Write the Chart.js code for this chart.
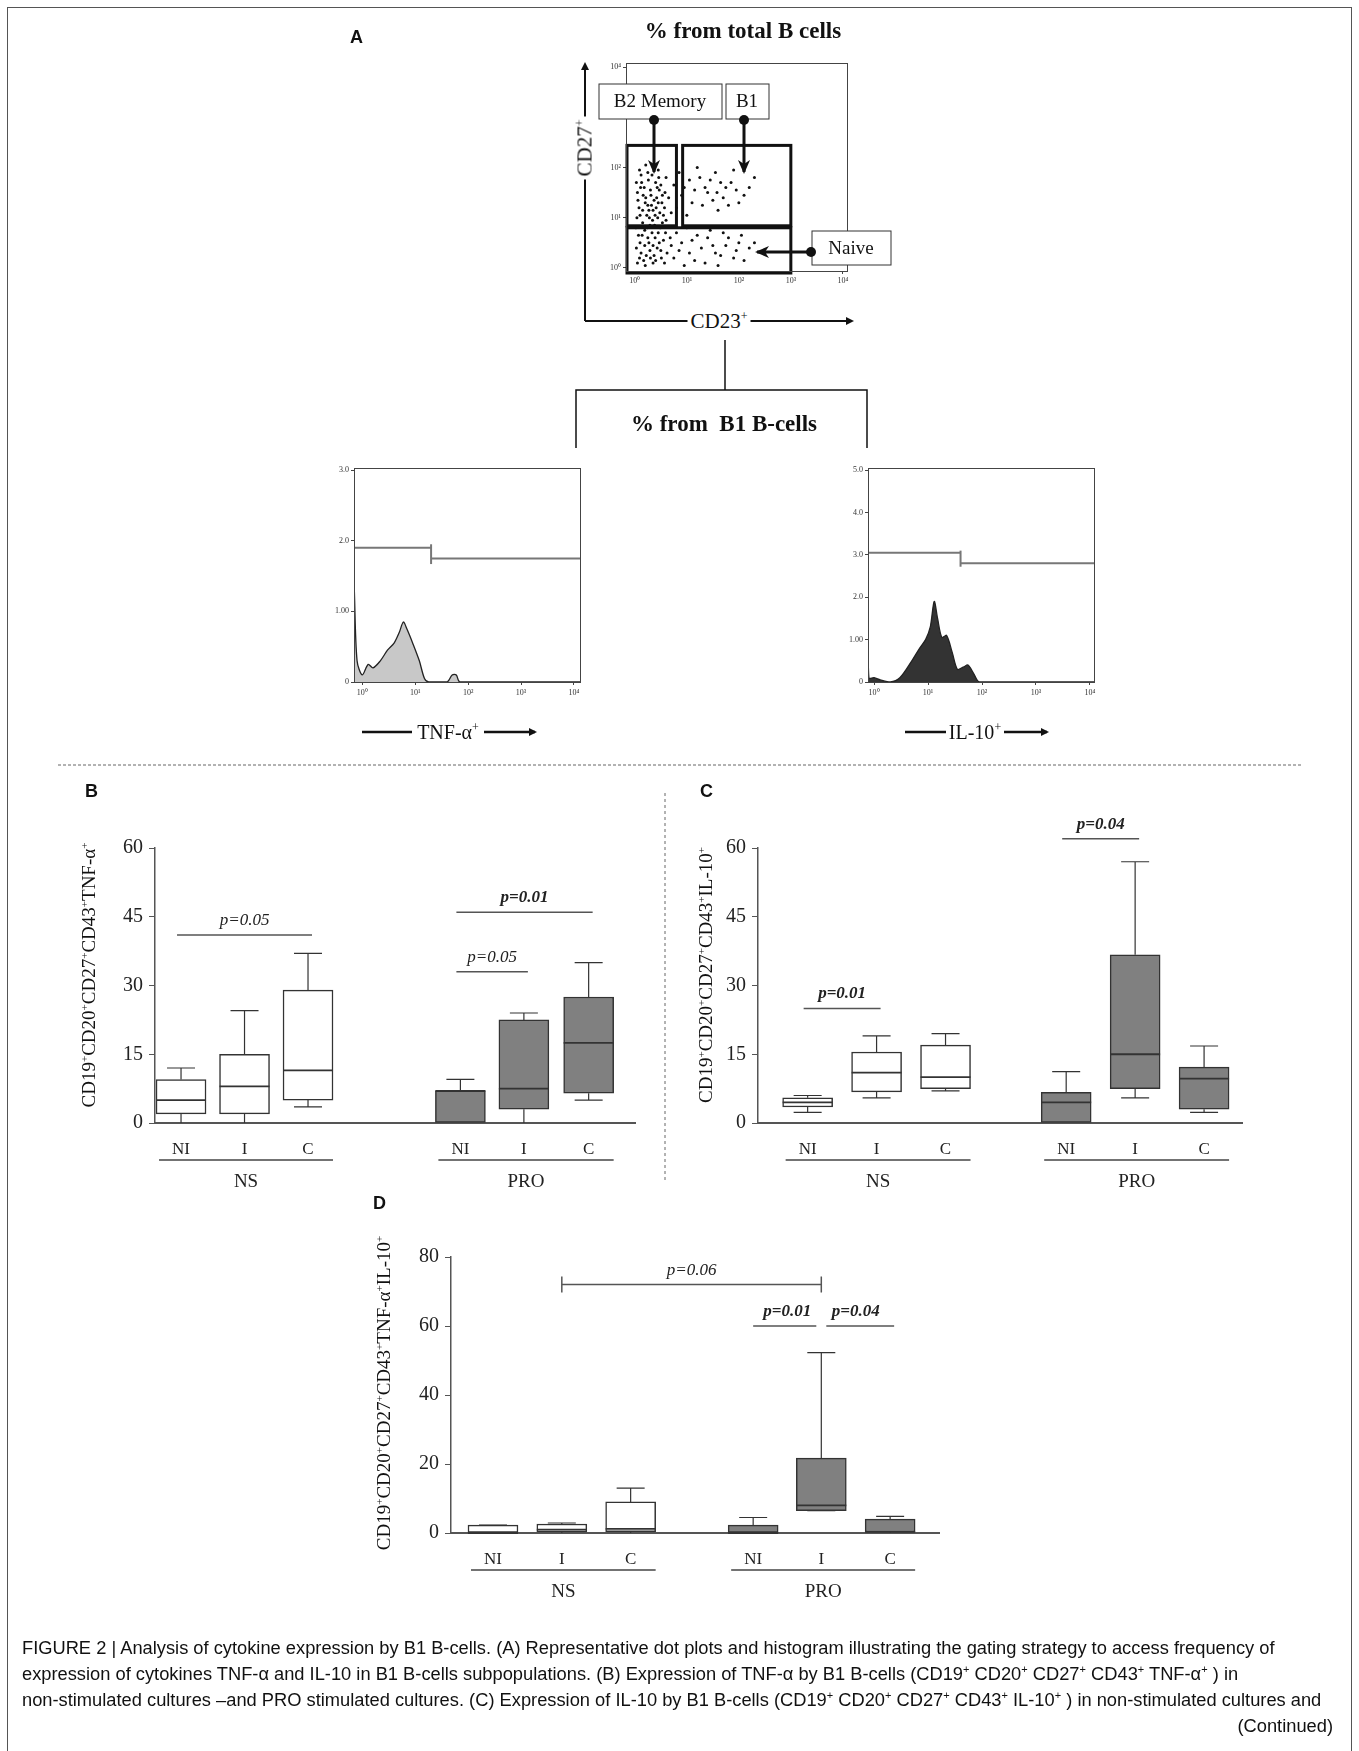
<!DOCTYPE html>
<html>
<head>
<meta charset="utf-8">
<script src="https://cdn.jsdelivr.net/npm/chart.js@4.4.1/dist/chart.umd.min.js"></script>
<style>
  body { margin: 0; background: #fff; }
  #page { position: relative; width: 1359px; height: 1751px; overflow: hidden; font-family: "Liberation Serif", serif; color: #111; }
  canvas, svg, .txt { position: absolute; }
  .txt { white-space: nowrap; }
  .ylab { font-size: 19px; transform: translate(-50%, -50%) rotate(-90deg); }
  .ylab sup { font-size: 11px; }
  .letter { font-family: "Liberation Sans", Arial, sans-serif; font-weight: bold; font-size: 18px; }
  .caption { font-family: "Liberation Sans", Arial, sans-serif; font-size: 18.3px; left: 22px; }
  .caption sup { font-size: 11px; }
</style>
</head>
<body>
<div id="page">
  <canvas id="dot" width="270" height="245" style="left:596px;top:50px"></canvas>
  <canvas id="histTnf" width="280" height="260" style="left:320px;top:455px"></canvas>
  <canvas id="histIl" width="280" height="260" style="left:834px;top:455px"></canvas>
  <canvas id="boxB" width="600" height="420" style="left:60px;top:800px"></canvas>
  <canvas id="boxC" width="620" height="430" style="left:640px;top:790px"></canvas>
  <canvas id="boxD" width="600" height="420" style="left:360px;top:1210px"></canvas>

  <svg width="1359" height="1751" style="left:0;top:0;pointer-events:none">
    <defs>
      <marker id="ah" markerWidth="8" markerHeight="8" refX="6" refY="4" orient="auto" markerUnits="userSpaceOnUse">
        <path d="M0,0 L8,4 L0,8 Z" fill="#111"/>
      </marker>
      <marker id="ahBig" markerWidth="14" markerHeight="12" refX="12" refY="6" orient="auto" markerUnits="userSpaceOnUse">
        <path d="M0,0 L14,6 L0,12 L4,6 Z" fill="#111"/>
      </marker>
    </defs>
    <rect x="7.5" y="7.5" width="1344" height="1760" fill="none" stroke="#555" stroke-width="1"/>
    <line x1="585" y1="321" x2="585" y2="64" stroke="#111" stroke-width="2" marker-end="url(#ah)"/>
    <line x1="585" y1="321" x2="852" y2="321" stroke="#111" stroke-width="2" marker-end="url(#ah)"/>
    <rect x="599" y="84" width="123" height="35" fill="#fff" stroke="#333"/>
    <rect x="726" y="84" width="43" height="35" fill="#fff" stroke="#333"/>
    <rect x="812" y="231" width="79" height="34" fill="#fff" stroke="#333"/>
    <circle cx="654" cy="120" r="5" fill="#111"/>
    <line x1="654" y1="120" x2="654" y2="172" stroke="#111" stroke-width="3" marker-end="url(#ahBig)"/>
    <circle cx="744" cy="120" r="5" fill="#111"/>
    <line x1="744" y1="120" x2="744" y2="172" stroke="#111" stroke-width="3" marker-end="url(#ahBig)"/>
    <circle cx="811" cy="252" r="5" fill="#111"/>
    <line x1="811" y1="252" x2="757" y2="252" stroke="#111" stroke-width="3" marker-end="url(#ahBig)"/>
    <line x1="725" y1="340" x2="725" y2="390" stroke="#111" stroke-width="1.5"/>
    <path d="M576,448 V390 H867 V448" fill="none" stroke="#111" stroke-width="1.5"/>
    <line x1="362" y1="732" x2="412" y2="732" stroke="#111" stroke-width="2.5"/>
    <line x1="484" y1="732" x2="535" y2="732" stroke="#111" stroke-width="2.5" marker-end="url(#ah)"/>
    <line x1="905" y1="732" x2="946" y2="732" stroke="#111" stroke-width="2.5"/>
    <line x1="1004" y1="732" x2="1047" y2="732" stroke="#111" stroke-width="2.5" marker-end="url(#ah)"/>
    <line x1="58" y1="765" x2="1301" y2="765" stroke="#666" stroke-width="1" stroke-dasharray="3,2"/>
    <line x1="665" y1="793" x2="665" y2="1181" stroke="#666" stroke-width="1" stroke-dasharray="3,3"/>
  </svg>

  <div class="txt letter" style="left:350px;top:27px">A</div>
  <div class="txt" style="left:743px;top:31px;transform:translate(-50%,-50%);font-weight:bold;font-size:23px">% from total B cells</div>
  <div class="txt" style="left:660px;top:101px;transform:translate(-50%,-50%);font-size:19px">B2 Memory</div>
  <div class="txt" style="left:747px;top:101px;transform:translate(-50%,-50%);font-size:19px">B1</div>
  <div class="txt" style="left:851px;top:248px;transform:translate(-50%,-50%);font-size:19px">Naive</div>
  <div class="txt" style="left:585px;top:148px;transform:translate(-50%,-50%) rotate(-90deg);font-size:21px;background:#fff;padding:0 3px">CD27<sup style="font-size:12px">+</sup></div>
  <div class="txt" style="left:719px;top:321px;transform:translate(-50%,-50%);font-size:21px;background:#fff;padding:0 3px">CD23<sup style="font-size:12px">+</sup></div>
  <div class="txt" style="left:724px;top:424px;transform:translate(-50%,-50%);font-weight:bold;font-size:23px">% from&nbsp; B1 B-cells</div>
  <div class="txt" style="left:448px;top:732px;transform:translate(-50%,-50%);font-size:20px">TNF-α<sup style="font-size:12px">+</sup></div>
  <div class="txt" style="left:975px;top:732px;transform:translate(-50%,-50%);font-size:20px">IL-10<sup style="font-size:12px">+</sup></div>

  <div class="txt letter" style="left:85px;top:781px">B</div>
  <div class="txt letter" style="left:700px;top:781px">C</div>
  <div class="txt letter" style="left:373px;top:1193px">D</div>
  <div class="txt ylab" style="left:89px;top:975px">CD19<sup>+</sup>CD20<sup>+</sup>CD27<sup>+</sup>CD43<sup>+</sup>TNF-α<sup>+</sup></div>
  <div class="txt ylab" style="left:706px;top:975px">CD19<sup>+</sup>CD20<sup>+</sup>CD27<sup>+</sup>CD43<sup>+</sup>IL-10<sup>+</sup></div>
  <div class="txt ylab" style="left:384px;top:1393px">CD19<sup>+</sup>CD20<sup>+</sup>CD27<sup>+</sup>CD43<sup>+</sup>TNF-α<sup>+</sup>IL-10<sup>+</sup></div>

  <div class="txt caption" style="top:1637px">FIGURE 2 | Analysis of cytokine expression by B1 B-cells. (A) Representative dot plots and histogram illustrating the gating strategy to access frequency of</div>
  <div class="txt caption" style="top:1663px">expression of cytokines TNF-α and IL-10 in B1 B-cells subpopulations. (B) Expression of TNF-α by B1 B-cells (CD19<sup>+</sup> CD20<sup>+</sup> CD27<sup>+</sup> CD43<sup>+</sup> TNF-α<sup>+</sup> ) in</div>
  <div class="txt caption" style="top:1689px">non-stimulated cultures –and PRO stimulated cultures. (C) Expression of IL-10 by B1 B-cells (CD19<sup>+</sup> CD20<sup>+</sup> CD27<sup>+</sup> CD43<sup>+</sup> IL-10<sup>+</sup> ) in non-stimulated cultures and</div>
  <div class="txt caption" style="top:1715px;left:auto;right:26px">(Continued)</div>
</div>

<script>
// ---- panel A: dot plot (log10 units) ----
const dotPoints = [
  0.05,0.1, 0.12,0.3, 0.2,0.05, 0.3,0.2, 0.4,0.15, 0.5,0.35, 0.1,0.5, 0.25,0.6, 0.35,0.45, 0.45,0.7,
  0.55,0.55, 0.02,0.8, 0.15,0.9, 0.28,1.0, 0.38,0.85, 0.48,1.1, 0.6,0.95, 0.08,1.2, 0.2,1.3, 0.32,1.25,
  0.42,1.4, 0.52,1.3, 0.05,1.5, 0.18,1.6, 0.3,1.55, 0.4,1.7, 0.5,1.65, 0.12,1.85, 0.25,1.9, 0.36,2.0,
  0.46,1.8, 0.58,1.5, 0.03,0.4, 0.22,0.25, 0.33,0.7, 0.43,0.4, 0.53,0.9, 0.62,0.3, 0.1,1.05, 0.27,1.15,
  0.37,1.35, 0.47,1.55, 0.57,1.2, 0.14,0.65, 0.24,0.8, 0.34,0.95, 0.44,1.0, 0.06,1.35, 0.16,1.45, 0.26,1.75,
  0.41,1.2, 0.51,0.2, 0.09,0.2, 0.19,0.45, 0.29,0.35, 0.39,0.6, 0.49,0.8, 0.59,0.7, 0.13,1.7, 0.23,1.05,
  0.31,1.45, 0.45,1.95, 0.04,1.0, 0.35,0.1, 0.55,1.05, 0.21,2.05, 0.65,1.4, 0.68,0.6, 0.7,1.1, 0.6,1.8,
  0.07,0.65, 0.17,0.15, 0.27,0.5, 0.37,0.25, 0.47,0.5, 0.57,0.1, 0.11,1.6, 0.21,1.4, 0.33,1.85, 0.43,1.6,
  0.53,1.45, 0.15,1.15, 0.25,1.25, 0.35,1.15, 0.45,1.3, 0.03,1.7, 0.09,1.95, 0.19,0.75, 0.29,0.85, 0.39,1.05,
  0.8,1.2, 0.95,1.6, 1.1,1.3, 1.25,1.8, 1.4,1.5, 1.55,1.9, 1.7,1.4, 1.85,1.7, 2.0,1.3, 2.2,1.6,
  0.85,1.9, 1.0,1.05, 1.15,1.55, 1.3,1.25, 1.45,1.75, 1.6,1.15, 1.75,1.6, 1.9,1.95, 2.1,1.45, 0.9,1.45,
  1.2,2.0, 1.5,1.35, 1.65,1.7, 1.8,1.25, 2.3,1.8, 1.05,1.75, 1.35,1.6, 1.95,1.55, 0.75,1.65, 1.58,1.5,
  0.75,0.2, 0.9,0.5, 1.05,0.3, 1.2,0.65, 1.35,0.1, 1.5,0.45, 1.65,0.25, 1.8,0.6, 1.95,0.35, 2.1,0.15,
  2.3,0.5, 2.5,0.3, 0.8,0.7, 0.95,0.05, 1.1,0.55, 1.28,0.4, 1.45,0.75, 1.6,0.05, 1.75,0.45, 1.9,0.2,
  2.05,0.65, 2.2,0.4, 0.85,0.35, 1.15,0.15, 1.4,0.6, 1.7,0.7, 2.0,0.5, 1.0,0.8, 1.55,0.3, 0.7,0.45
];
// gates: [x1, x2, y1, y2] in decades
const gateB2 = [-0.17, 0.8, 0.84, 2.44];
const gateB1 = [0.9, 3.0, 0.84, 2.44];
const gateNaive = [-0.17, 3.0, -0.1, 0.8];
const decadeLabels = ['10⁰', '10¹', '10²', '10³', '10⁴'];

// ---- histograms ----
const tnfX = [0.71, 0.8, 1.0, 1.3, 1.6, 2.2, 3, 4, 5, 6, 7, 9, 12, 15, 18, 40, 50, 60, 70, 13000];
const tnfY = [1.3, 0.3, 0.1, 0.25, 0.2, 0.3, 0.45, 0.55, 0.7, 0.85, 0.75, 0.55, 0.3, 0.05, 0, 0, 0.1, 0.1, 0, 0];
const tnfGate = [1.9, 1.75];
const tnfGateAt = 20;
const ilX = [0.77, 0.8, 1.0, 1.3, 2, 3, 5, 7, 9, 11, 13, 15, 18, 22, 28, 35, 45, 55, 70, 90, 11900];
const ilY = [0.9, 0.1, 0.1, 0.05, 0, 0.1, 0.5, 0.8, 1.0, 1.3, 1.9, 1.5, 1.05, 1.1, 0.7, 0.3, 0.35, 0.4, 0.2, 0, 0];
const ilGate = [3.05, 2.8];
const ilGateAt = 40;

// ---- box plots ----
const groupCats = ['NI', 'I', 'C', 'NI', 'I', 'C'];
const groupNames = ['NS', 'PRO'];
const boxFills = ['#ffffff', '#ffffff', '#ffffff', '#808080', '#808080', '#808080'];

const bPos = [1, 2, 3, 5.4, 6.4, 7.42];
const bMin = [0, 0, 3.5, 0, 0, 5];
const bQ1  = [2, 2, 5, 0, 3, 6.5];
const bMed = [5, 8, 11.5, 7, 7.5, 17.5];
const bQ3  = [9.5, 15, 29, 7, 22.5, 27.5];
const bMax = [12, 24.5, 37, 9.5, 24, 35];
// [from, to, y, text, bold, bracket, padLeft, padRight]
const bSig = [[0, 2, 41, 'p=0.05', false, false, 4, 4], [3, 4, 33, 'p=0.05', false, false, 4, 4], [3, 5, 46, 'p=0.01', true, false, 4, 4]];

const cPos = [1, 2, 3, 4.75, 5.75, 6.75];
const cMin = [2.3, 5.5, 7, 0, 5.5, 2.3];
const cQ1  = [3.5, 6.8, 7.5, 0, 7.5, 3];
const cMed = [4.5, 11, 10, 4.5, 15, 9.7];
const cQ3  = [5.5, 15.5, 17, 6.7, 36.7, 12.2];
const cMax = [6, 19, 19.5, 11.2, 57, 16.8];
const cSig = [[0, 1, 25, 'p=0.01', true, false, 4, 4], [3, 4, 62, 'p=0.04', true, false, 4, 4]];

const dPos = [1, 2, 3, 4.78, 5.77, 6.77];
const dMin = [0, 0, 0, 0, 6.5, 0];
const dQ1  = [0, 0.3, 0.4, 0, 6.5, 0.3];
const dMed = [0, 1, 1.2, 0, 8, 0.3];
const dQ3  = [2.3, 2.6, 9, 2.3, 21.7, 4];
const dMax = [2.3, 2.9, 13, 4.5, 52.3, 4.8];
const dSig = [[1, 4, 72, 'p=0.06', false, true, 0, 0], [3, 4, 60, 'p=0.01', true, false, 0, -5], [4, 5, 60, 'p=0.04', true, false, -5, 4]];

const serif = '"Liberation Serif", serif';

const framePlugin = {
  id: 'frame',
  afterDraw(chart) {
    const a = chart.chartArea, ctx = chart.ctx;
    ctx.save();
    ctx.strokeStyle = '#444';
    ctx.lineWidth = 1;
    ctx.strokeRect(a.left + 0.5, a.top + 0.5, a.right - a.left, a.bottom - a.top);
    ctx.restore();
  }
};

const dotData = [];
for (let i = 0; i < dotPoints.length; i += 2) dotData.push({ x: dotPoints[i], y: dotPoints[i + 1] });

new Chart(document.getElementById('dot'), {
  type: 'scatter',
  data: { datasets: [{ data: dotData, pointRadius: 1.5, pointBackgroundColor: '#111', pointBorderWidth: 0 }] },
  options: {
    responsive: false, animation: false,
    layout: { padding: { left: 8, top: 13, right: 19, bottom: 6 } },
    plugins: { legend: { display: false }, tooltip: { enabled: false } },
    scales: {
      x: {
        type: 'linear', min: -0.17, max: 4.08,
        afterBuildTicks: s => { s.ticks = [0, 1, 2, 3, 4].map(v => ({ value: v })); },
        afterFit: s => { s.height = 18; },
        ticks: { callback: (v, i) => decadeLabels[i], font: { size: 8, family: serif }, color: '#333', padding: 2 },
        grid: { drawOnChartArea: false, tickLength: 3, color: '#444' }, border: { color: '#444' }
      },
      y: {
        type: 'linear', min: -0.06, max: 4.08,
        afterBuildTicks: s => { s.ticks = [0, 1, 2, 3, 4].map(v => ({ value: v })); },
        afterFit: s => { s.width = 22; },
        ticks: { callback: (v, i) => decadeLabels[i], font: { size: 8, family: serif }, color: '#333', padding: 2 },
        grid: { drawOnChartArea: false, tickLength: 3, color: '#444' }, border: { color: '#444' }
      }
    }
  },
  plugins: [framePlugin, {
    id: 'gates',
    afterDatasetsDraw(chart) {
      const { ctx, scales: { x, y } } = chart;
      ctx.save();
      ctx.strokeStyle = '#111';
      ctx.lineWidth = 3;
      [gateB2, gateB1, gateNaive].forEach(g => {
        const x1 = x.getPixelForValue(g[0]) + 1, x2 = x.getPixelForValue(g[1]);
        const y1 = y.getPixelForValue(g[2]), y2 = y.getPixelForValue(g[3]);
        ctx.strokeRect(x1, y2, x2 - x1, y1 - y2);
      });
      ctx.restore();
    }
  }]
});

function histChart(id, xs, ys, fill, yTicks, yLabels, yMax, gate, gateAt, xMin, xMax) {
  const curve = xs.map((v, i) => ({ x: v, y: ys[i] }));
  const gateStyle = { showLine: true, pointRadius: 0, borderColor: '#777', borderWidth: 2, fill: false };
  new Chart(document.getElementById(id), {
    type: 'scatter',
    data: {
      datasets: [
        { data: curve, showLine: true, pointRadius: 0, borderColor: '#222', borderWidth: 1.3, backgroundColor: fill, fill: 'origin', tension: 0.3 },
        { ...gateStyle, data: [{ x: xMin, y: gate[0] }, { x: gateAt, y: gate[0] }] },
        { ...gateStyle, data: [{ x: gateAt, y: gate[1] }, { x: xMax, y: gate[1] }] },
        { ...gateStyle, data: [{ x: gateAt, y: gate[1] - 0.08 }, { x: gateAt, y: gate[0] + 0.05 }] }
      ]
    },
    options: {
      responsive: false, animation: false,
      layout: { padding: { left: 6, top: 13, right: 20, bottom: 13 } },
      plugins: { legend: { display: false }, tooltip: { enabled: false } },
      scales: {
        x: {
          type: 'logarithmic', min: xMin, max: xMax,
          afterBuildTicks: s => { s.ticks = [1, 10, 100, 1000, 10000].map(v => ({ value: v })); },
          afterFit: s => { s.height = 20; },
          ticks: { callback: (v, i) => decadeLabels[i], font: { size: 8, family: serif }, color: '#333', padding: 3 },
          grid: { drawOnChartArea: false, tickLength: 3, color: '#444' }, border: { color: '#444' }
        },
        y: {
          type: 'linear', min: 0, max: yMax,
          afterBuildTicks: s => { s.ticks = yTicks.map(v => ({ value: v })); },
          afterFit: s => { s.width = 28; },
          ticks: { callback: (v, i) => yLabels[i], font: { size: 8, family: serif }, color: '#333', padding: 2 },
          grid: { drawOnChartArea: false, tickLength: 3, color: '#444' }, border: { color: '#444' }
        }
      }
    },
    plugins: [framePlugin]
  });
}

histChart('histTnf', tnfX, tnfY, '#c8c8c8', [0, 1, 2, 3], ['0', '1.00', '2.0', '3.0'], 3.03, tnfGate, tnfGateAt, 0.71, 13000);
histChart('histIl', ilX, ilY, '#333333', [0, 1, 2, 3, 4, 5], ['0', '1.00', '2.0', '3.0', '4.0', '5.0'], 5.05, ilGate, ilGateAt, 0.77, 11900);

function boxChart(id, pos, mins, q1s, meds, q3s, maxs, sigs, yMax, step, xMin, xMax, pad) {
  new Chart(document.getElementById(id), {
    type: 'bar',
    data: {
      datasets: [{
        data: pos.map((p, i) => ({ x: p, y: [q1s[i], q3s[i]] })),
        backgroundColor: boxFills, borderColor: '#333', borderWidth: 1.5,
        borderSkipped: false, barThickness: 50
      }]
    },
    options: {
      responsive: false, animation: false,
      layout: { padding: pad },
      plugins: { legend: { display: false }, tooltip: { enabled: false } },
      scales: {
        x: {
          type: 'linear', min: xMin, max: xMax, offset: false,
          afterBuildTicks: s => { s.ticks = pos.map(v => ({ value: v })); },
          afterFit: s => { s.height = 40; },
          ticks: { callback: (v, i) => groupCats[i], font: { size: 17, family: serif }, color: '#222', padding: 8, maxRotation: 0 },
          grid: { display: false }, border: { color: '#555', width: 2 }
        },
        y: {
          min: 0, max: yMax,
          ticks: { stepSize: step, font: { size: 20, family: serif }, color: '#222', padding: 6 },
          afterFit: s => { s.width = 50; },
          grid: { drawOnChartArea: false, tickLength: 6, color: '#555' }, border: { color: '#555', width: 1.5 }
        }
      }
    },
    plugins: [{
      id: 'boxExtras',
      afterDatasetsDraw(chart) {
        const { ctx, scales: { x, y }, chartArea } = chart;
        ctx.save();
        ctx.strokeStyle = '#333';
        pos.forEach((p, i) => {
          const cx = x.getPixelForValue(p);
          ctx.lineWidth = 1.2;
          ctx.beginPath();
          ctx.moveTo(cx, y.getPixelForValue(q3s[i])); ctx.lineTo(cx, y.getPixelForValue(maxs[i]));
          ctx.moveTo(cx, y.getPixelForValue(q1s[i])); ctx.lineTo(cx, y.getPixelForValue(mins[i]));
          ctx.moveTo(cx - 14, y.getPixelForValue(maxs[i])); ctx.lineTo(cx + 14, y.getPixelForValue(maxs[i]));
          if (mins[i] > 0) { ctx.moveTo(cx - 14, y.getPixelForValue(mins[i])); ctx.lineTo(cx + 14, y.getPixelForValue(mins[i])); }
          ctx.stroke();
          ctx.lineWidth = 1.8;
          ctx.beginPath();
          ctx.moveTo(cx - 25, y.getPixelForValue(meds[i])); ctx.lineTo(cx + 25, y.getPixelForValue(meds[i]));
          ctx.stroke();
        });
        sigs.forEach(s => {
          const x1 = x.getPixelForValue(pos[s[0]]), x2 = x.getPixelForValue(pos[s[1]]);
          const yy = y.getPixelForValue(s[2]);
          ctx.strokeStyle = '#555';
          ctx.lineWidth = 1.5;
          ctx.beginPath();
          ctx.moveTo(x1 - s[6], yy); ctx.lineTo(x2 + s[7], yy);
          if (s[5]) { ctx.moveTo(x1, yy - 8); ctx.lineTo(x1, yy + 8); ctx.moveTo(x2, yy - 8); ctx.lineTo(x2, yy + 8); }
          ctx.stroke();
          ctx.fillStyle = '#222';
          ctx.font = (s[4] ? 'italic bold ' : 'italic ') + '17px ' + serif;
          ctx.textAlign = 'center';
          ctx.textBaseline = 'bottom';
          ctx.fillText(s[3], (x1 + x2) / 2, yy - 6);
        });
        [[0, 2], [3, 5]].forEach((g, gi) => {
          const x1 = x.getPixelForValue(pos[g[0]]) - 22, x2 = x.getPixelForValue(pos[g[1]]) + 25;
          const yy = chartArea.bottom + 37;
          ctx.strokeStyle = '#444';
          ctx.lineWidth = 1.3;
          ctx.beginPath(); ctx.moveTo(x1, yy); ctx.lineTo(x2, yy); ctx.stroke();
          ctx.fillStyle = '#222';
          ctx.font = '19px ' + serif;
          ctx.textAlign = 'center';
          ctx.textBaseline = 'middle';
          ctx.fillText(groupNames[gi], (x1 + x2) / 2, yy + 22);
        });
        ctx.restore();
      }
    }]
  });
}

boxChart('boxB', bPos, bMin, bQ1, bMed, bQ3, bMax, bSig, 60, 15, 0.59, 8.15, { left: 45, top: 48, right: 25, bottom: 57 });
boxChart('boxC', cPos, cMin, cQ1, cMed, cQ3, cMax, cSig, 60, 15, 0.28, 7.3, { left: 68, top: 58, right: 18, bottom: 57 });
boxChart('boxD', dPos, dMin, dQ1, dMed, dQ3, dMax, dSig, 80, 20, 0.39, 7.48, { left: 41, top: 47, right: 21, bottom: 57 });
</script>
</body>
</html>
